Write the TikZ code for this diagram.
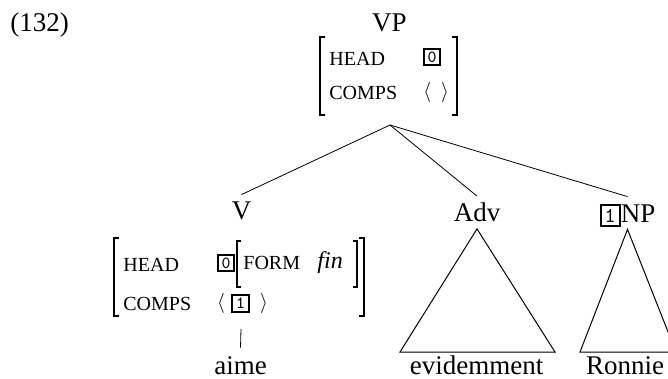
\documentclass[tikz,border=0pt]{standalone}
\usepackage{fontspec}
\setmainfont{Liberation Serif}
\usepackage{tikz}
\usetikzlibrary{positioning}
\tikzstyle{cat}=[font=\fontsize{13.5}{16}\selectfont, inner sep=3.5pt, text height=9pt, text depth=0pt]
\tikzstyle{leaf}=[font=\fontsize{13.5}{16}\selectfont, inner sep=0pt, anchor=base]
\tikzstyle{feat}=[font=\fontsize{10}{12}\selectfont, inner sep=0pt, anchor=west]
\tikzstyle{tag}=[draw, line width=1pt, inner sep=0pt, minimum size=8.3pt, font=\ttfamily\fontsize{8.5}{8.5}\selectfont]
\tikzstyle{brk}=[line width=0.9pt]
\tikzstyle{tri}=[line width=0.5pt]
\newcommand{\boxtag}[1]{{\setlength{\fboxrule}{0.9pt}\setlength{\fboxsep}{1.6pt}\fbox{\ttfamily\fontsize{10.5}{10.5}\selectfont #1}}}
\begin{document}
\begin{tikzpicture}[x=0.5pt, y=-0.5pt]
\useasboundingbox (0,0) rectangle (668,379);
\clip (0,0) rectangle (668,379);
\node[leaf, anchor=base west] (exnum) at (10,32) {(132)};
\node[cat] (vp) at (389.5,23) {VP};
\node[feat] (vphead) at (329,58.5) {HEAD};
\node[tag] (vptag0) at (432,57) {0};
\node[feat] (vpcomps) at (329,92.5) {COMPS};
\node[feat] (vpcval) at (423,92.5) {$\langle\hspace{5pt}\rangle$};
\draw[brk] (325,37) -| (320,115) -- (325,115);
\draw[brk] (452,37) -| (457,115) -- (452,115);
\coordinate (vpfoot) at (390,125);
\node[cat] (v) at (241.5,211) {V};
\node[cat] (adv) at (477,212.5) {Adv};
\node[cat] (np) at (627.5,213) {\boxtag{1}NP};
\draw[](vpfoot) -- (v.north);
\draw[](vpfoot) -- (adv.north);
\draw[](vpfoot) -- (np.north);
\node[feat] (vhead) at (123,265) {HEAD};
\node[tag] (vtag0) at (226,263) {0};
\node[feat] (vform) at (243,262.5) {FORM};
\node[leaf, anchor=base west, font=\fontsize{12}{14}\selectfont\itshape] (vfin) at (317,268) {fin};
\node[feat] (vcomps) at (123,304) {COMPS};
\node[tag] (vtag1) at (240.5,303.5) {1};
\node[feat, left=3pt of vtag1] (vlang) {$\langle$};
\node[feat, right=5pt of vtag1] (vrang) {$\rangle$};
\draw[brk] (119,238) -| (114,316) -- (119,316);
\draw[brk] (359,238) -| (364,316) -- (359,316);
\draw[brk] (241,241) -| (237,287) -- (241,287);
\draw[brk] (353,241) -| (357,287) -- (353,287);
\coordinate (vfoot) at (241,329);
\node[leaf] (aime) at (240.5,374) {aime};
\draw[](vfoot) -- ([yshift=4pt]aime.north);
\node[leaf] (evid) at (476.5,374) {evidemment};
\node[leaf] (ronnie) at (625,374) {Ronnie};
\coordinate (advL) at (400,352);
\coordinate (advR) at (555,352);
\draw[tri](adv.south) -- (advL) -- (advR) -- cycle;
\coordinate (npL) at (580,352);
\coordinate (npR) at (676,352);
\draw[tri](np.south) -- (npL) -- (npR) -- cycle;
\end{tikzpicture}
\end{document}
